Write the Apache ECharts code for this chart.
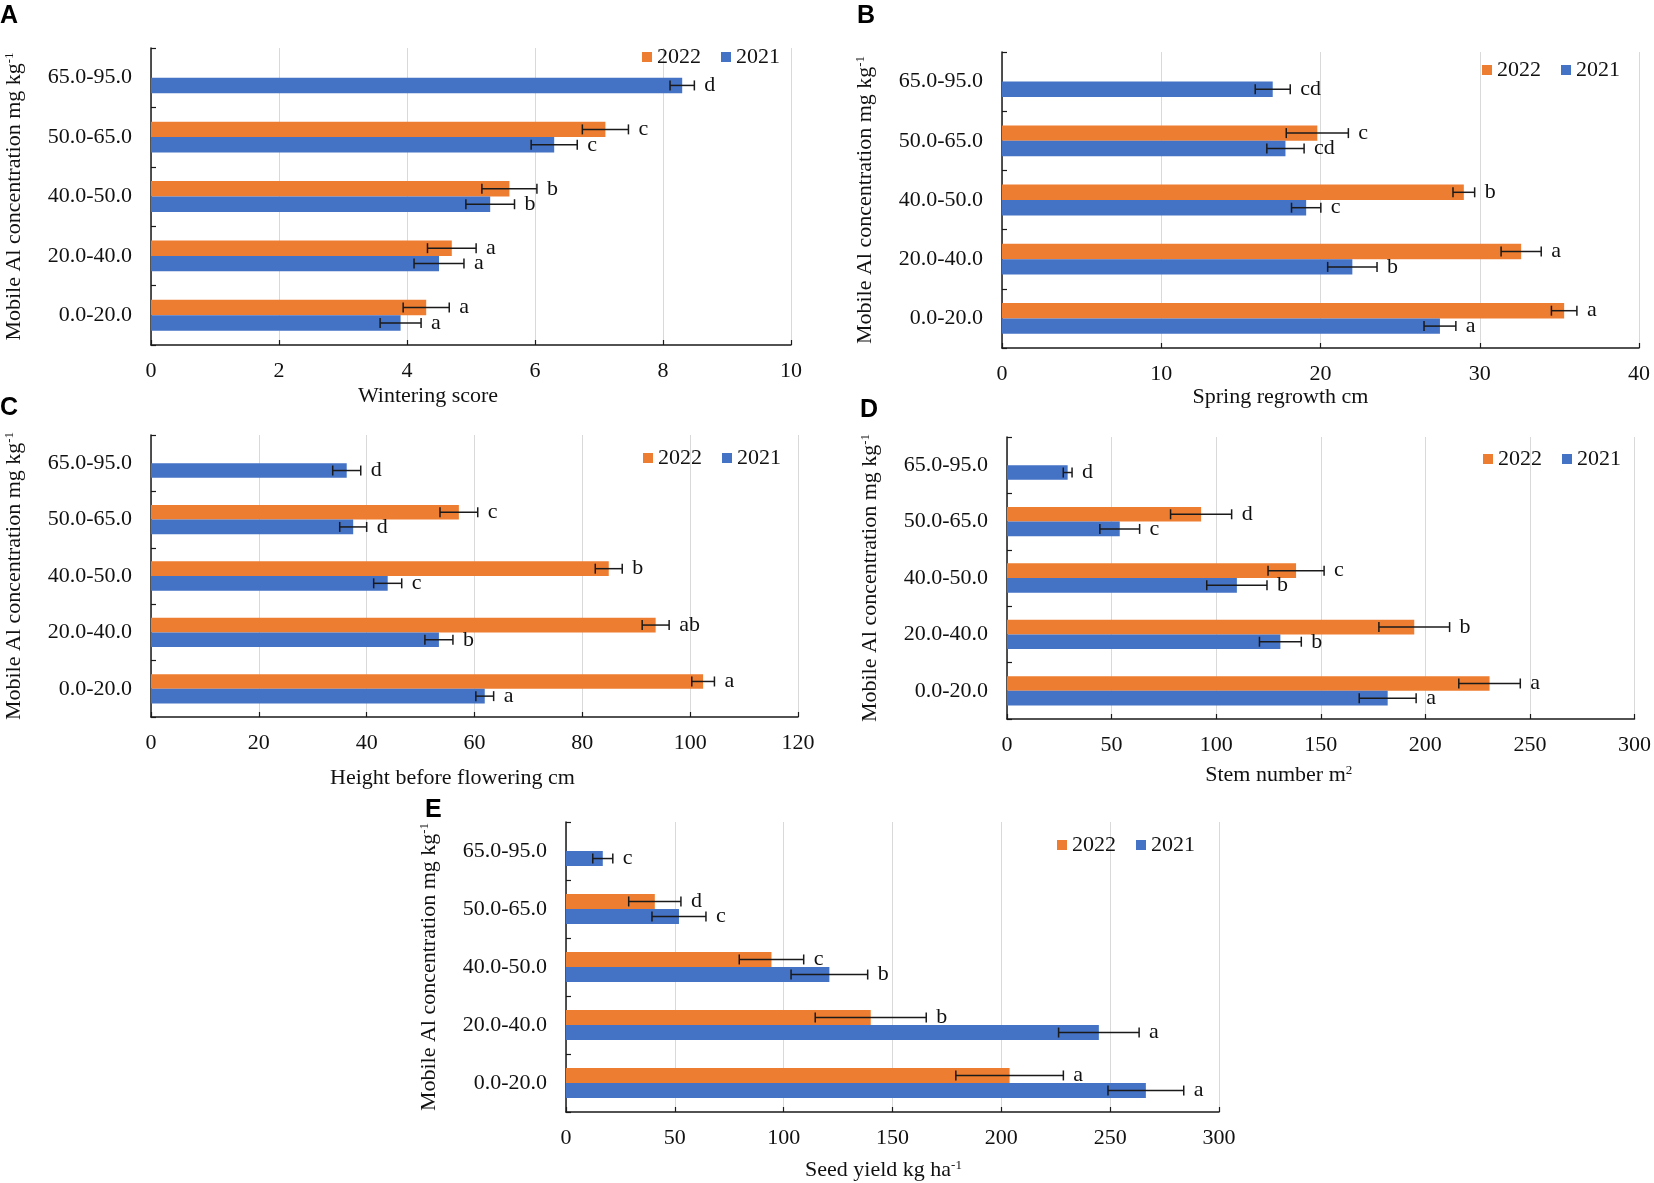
<!DOCTYPE html>
<html>
<head>
<meta charset="utf-8">
<script src="https://cdn.jsdelivr.net/npm/echarts@6.0.0/dist/echarts.min.js"></script>
<style>
    * { margin: 0; padding: 0; box-sizing: border-box; }
    body { background: #fff; }
    #chart { width: 1654px; height: 1183px; }
</style>
</head>
<body>
<div id="chart"></div>
<script>
// categories, bottom to top
const categories = ['0.0-20.0', '20.0-40.0', '40.0-50.0', '50.0-65.0', '65.0-95.0'];

// A - wintering score
const winter2021 = [3.9, 4.5, 5.3, 6.3, 8.3];
const winter2021Err = [0.32, 0.39, 0.38, 0.36, 0.19];
const winter2021Sig = ['a', 'a', 'b', 'c', 'd'];
const winter2022 = [4.3, 4.7, 5.6, 7.1, null];
const winter2022Err = [0.36, 0.38, 0.43, 0.36, null];
const winter2022Sig = ['a', 'a', 'b', 'c', ''];

// B - spring regrowth cm
const spring2021 = [27.5, 22.0, 19.1, 17.8, 17.0];
const spring2021Err = [1.0, 1.55, 0.92, 1.17, 1.1];
const spring2021Sig = ['a', 'b', 'c', 'cd', 'cd'];
const spring2022 = [35.3, 32.6, 29.0, 19.8, null];
const spring2022Err = [0.8, 1.26, 0.68, 1.95, null];
const spring2022Sig = ['a', 'a', 'b', 'c', ''];

// C - height before flowering cm
const height2021 = [61.9, 53.4, 43.9, 37.5, 36.3];
const height2021Err = [1.65, 2.6, 2.6, 2.5, 2.6];
const height2021Sig = ['a', 'b', 'c', 'd', 'd'];
const height2022 = [102.4, 93.6, 84.9, 57.1, null];
const height2022Err = [2.1, 2.5, 2.5, 3.5, null];
const height2022Sig = ['a', 'ab', 'b', 'c', ''];

// D - stem number m2
const stem2021 = [182, 130.7, 109.9, 53.9, 29];
const stem2021Err = [13.6, 10, 14.4, 9.5, 2.1];
const stem2021Sig = ['a', 'b', 'b', 'c', 'd'];
const stem2022 = [230.7, 194.7, 138.2, 92.8, null];
const stem2022Err = [14.7, 16.9, 13.4, 14.6, null];
const stem2022Sig = ['a', 'b', 'c', 'd', ''];

// E - seed yield kg ha-1
const seed2021 = [266.4, 244.8, 121, 51.9, 16.9];
const seed2021Err = [17.4, 18.5, 17.6, 12.4, 4.6];
const seed2021Sig = ['a', 'a', 'b', 'c', 'c'];
const seed2022 = [203.8, 140, 94.4, 40.8, null];
const seed2022Err = [24.7, 25.5, 14.8, 12, null];
const seed2022Sig = ['a', 'b', 'c', 'd', ''];

const FONT = 'Liberation Serif';
const BLUE = '#4472C4';
const ORANGE = '#ED7D31';
const BAR = 0.26;

const panels = [
    { tag: 'A', grid: { left: 151, top: 48, width: 640, height: 297 }, max: 10, step: 2,
      xName: '{n|Wintering score}', nameGap: 40, shift: 43, legend: [637, 41], tagPos: [0, 4],
      v21: winter2021, e21: winter2021Err, s21: winter2021Sig, v22: winter2022, e22: winter2022Err, s22: winter2022Sig },
    { tag: 'B', grid: { left: 1002, top: 52, width: 637, height: 296 }, max: 40, step: 10,
      xName: '{n|Spring regrowth cm}', nameGap: 38, shift: 40, legend: [1477, 54], tagPos: [857, 4],
      v21: spring2021, e21: spring2021Err, s21: spring2021Sig, v22: spring2022, e22: spring2022Err, s22: spring2022Sig },
    { tag: 'C', grid: { left: 151, top: 435, width: 647, height: 282 }, max: 120, step: 20,
      xName: '{n|Height before flowering cm}', nameGap: 50, shift: 22, legend: [638, 442], tagPos: [0, 396],
      v21: height2021, e21: height2021Err, s21: height2021Sig, v22: height2022, e22: height2022Err, s22: height2022Sig },
    { tag: 'D', grid: { left: 1007, top: 437, width: 630, height: 282 }, max: 300, step: 50,
      xName: '{n|Stem number m}{s|2}', nameGap: 45, shift: 42, legend: [1478, 443], tagPos: [860, 398],
      v21: stem2021, e21: stem2021Err, s21: stem2021Sig, v22: stem2022, e22: stem2022Err, s22: stem2022Sig },
    { tag: 'E', grid: { left: 566, top: 822, width: 653, height: 290 }, max: 300, step: 50,
      xName: '{n|Seed yield kg ha}{s|-1}', nameGap: 47, shift: 9, legend: [1052, 829], tagPos: [425, 798],
      v21: seed2021, e21: seed2021Err, s21: seed2021Sig, v22: seed2022, e22: seed2022Err, s22: seed2022Sig }
];

const richText = {
    n: { fontSize: 22, fontFamily: FONT, color: '#111' },
    s: { fontSize: 13, fontFamily: FONT, color: '#111', verticalAlign: 'top' }
};
const axisLine = { show: true, lineStyle: { color: '#1a1a1a', width: 1.5 } };

// error bars + significance letters, drawn through the axes
function errorSeries(idx, vals, errs, sigs, side) {
    return {
        type: 'custom',
        xAxisIndex: idx,
        yAxisIndex: idx,
        z: 5,
        silent: true,
        data: vals.map((v, i) => [v, i, errs[i]]).filter(d => d[0] != null),
        renderItem: (params, api) => {
            const v = api.value(0), c = api.value(1), e = api.value(2);
            const band = api.size([0, 1])[1];
            const y = api.coord([v, c])[1] + side * band * BAR / 2;
            const xl = api.coord([v - e, c])[0];
            const xr = api.coord([v + e, c])[0];
            const cap = 5;
            const st = { stroke: '#1a1a1a', lineWidth: 1.5 };
            return {
                type: 'group',
                children: [
                    { type: 'line', shape: { x1: xl, y1: y, x2: xr, y2: y }, style: st },
                    { type: 'line', shape: { x1: xl, y1: y - cap, x2: xl, y2: y + cap }, style: st },
                    { type: 'line', shape: { x1: xr, y1: y - cap, x2: xr, y2: y + cap }, style: st },
                    { type: 'text', x: xr + 10, y: y,
                      style: { text: sigs[c], fill: '#111', font: '22px "' + FONT + '"', align: 'left', verticalAlign: 'middle' } }
                ]
            };
        }
    };
}

const grids = [], xAxes = [], yAxes = [], legends = [], series = [], graphics = [];

panels.forEach((p, i) => {
    grids.push(p.grid);
    xAxes.push({
        type: 'value', gridIndex: i, min: 0, max: p.max, interval: p.step,
        name: p.xName, nameLocation: 'middle', nameGap: p.nameGap,
        nameTextStyle: { rich: richText, padding: [0, p.shift * 2, 0, 0] },
        axisLine: axisLine,
        axisTick: { show: true, inside: true, length: 5, lineStyle: { color: '#1a1a1a', width: 1.2 } },
        axisLabel: { fontSize: 22, fontFamily: FONT, color: '#111', margin: 15 },
        splitLine: { show: true, lineStyle: { color: '#d9d9d9', width: 1 } }
    });
    yAxes.push({
        type: 'category', gridIndex: i, data: categories,
        name: '{n|Mobile Al concentration mg kg}{s|-1}', nameLocation: 'middle', nameGap: 126,
        nameTextStyle: { rich: richText },
        axisLine: axisLine,
        axisTick: { show: true, inside: true, length: 5, lineStyle: { color: '#1a1a1a', width: 1.2 } },
        axisLabel: { fontSize: 22, fontFamily: FONT, color: '#111', margin: 19 },
        splitLine: { show: false }
    });
    legends.push({
        left: p.legend[0], top: p.legend[1], data: ['2022', '2021'],
        icon: 'rect', itemWidth: 10, itemHeight: 10, itemGap: 20, selectedMode: false,
        textStyle: { fontSize: 22, fontFamily: FONT, color: '#111' }
    });
    // first bar series of a group sits on top in a horizontal layout
    series.push(
        { type: 'bar', name: '2022', xAxisIndex: i, yAxisIndex: i, data: p.v22,
          barWidth: (BAR * 100) + '%', barGap: '0%', itemStyle: { color: ORANGE } },
        { type: 'bar', name: '2021', xAxisIndex: i, yAxisIndex: i, data: p.v21,
          barWidth: (BAR * 100) + '%', barGap: '0%', itemStyle: { color: BLUE } },
        errorSeries(i, p.v21, p.e21, p.s21, 1),
        errorSeries(i, p.v22, p.e22, p.s22, -1)
    );
    graphics.push({
        type: 'text', left: p.tagPos[0], top: p.tagPos[1],
        style: { text: p.tag, font: 'bold 25px "Liberation Sans"', fill: '#000' }
    });
});

const chart = echarts.init(document.getElementById('chart'));
chart.setOption({
    animation: false,
    backgroundColor: '#fff',
    textStyle: { fontFamily: FONT },
    grid: grids,
    xAxis: xAxes,
    yAxis: yAxes,
    legend: legends,
    series: series,
    graphic: graphics
});
window.addEventListener('resize', () => chart.resize());
</script>
</body>
</html>
